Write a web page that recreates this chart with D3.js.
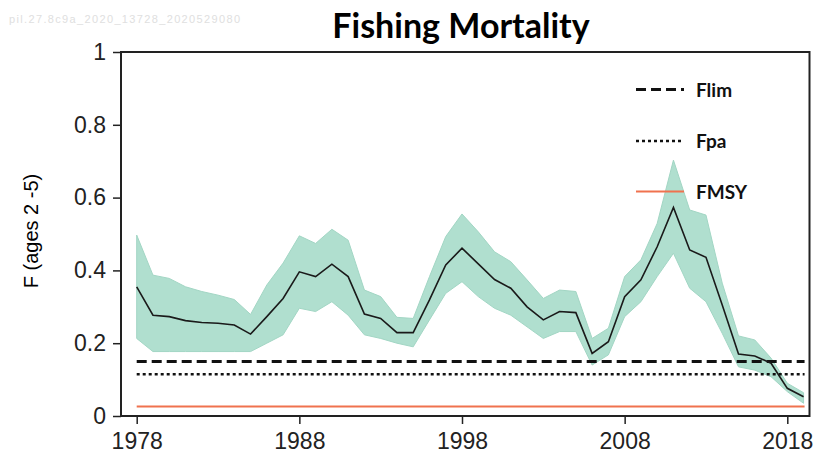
<!DOCTYPE html>
<html>
<head>
<meta charset="utf-8">
<script src="https://cdn.jsdelivr.net/npm/d3@7"></script>
<style>
  body { margin: 0; background: #fff; }
  svg { display: block; }
</style>
</head>
<body>
<div id="chart"></div>
<script>
// years and F estimates (ages 2-5)
var years = d3.range(1978, 2020);
var fMedian = [0.355, 0.277, 0.273, 0.262, 0.257, 0.255, 0.250, 0.225, 0.273, 0.323,
    0.396, 0.383, 0.417, 0.383, 0.280, 0.268, 0.229, 0.229, 0.319, 0.415,
    0.461, 0.418, 0.375, 0.351, 0.300, 0.264, 0.287, 0.284, 0.172, 0.204,
    0.328, 0.374, 0.465, 0.573, 0.456, 0.436, 0.305, 0.170, 0.165, 0.145,
    0.076, 0.053];
var fHigh = [0.497, 0.387, 0.378, 0.355, 0.342, 0.332, 0.320, 0.279, 0.360, 0.420,
    0.495, 0.474, 0.513, 0.483, 0.346, 0.328, 0.271, 0.268, 0.383, 0.493,
    0.555, 0.506, 0.451, 0.424, 0.374, 0.323, 0.346, 0.342, 0.213, 0.241,
    0.383, 0.429, 0.529, 0.703, 0.566, 0.552, 0.365, 0.220, 0.209, 0.159,
    0.090, 0.064];
var fLow = [0.213, 0.177, 0.177, 0.177, 0.177, 0.177, 0.177, 0.177, 0.200, 0.223,
    0.296, 0.287, 0.314, 0.277, 0.223, 0.213, 0.200, 0.190, 0.264, 0.337,
    0.369, 0.328, 0.296, 0.277, 0.245, 0.213, 0.232, 0.232, 0.140, 0.168,
    0.273, 0.314, 0.383, 0.447, 0.351, 0.314, 0.227, 0.135, 0.126, 0.108,
    0.067, 0.035];
var refNames = ["Flim", "Fpa", "FMSY"];
var refValues = [0.15, 0.115, 0.026];
var xTicks = [1978, 1988, 1998, 2008, 2018];
var yTicks = [0, 0.2, 0.4, 0.6, 0.8, 1];

var refStyle = {
    Flim: { color: "#111", width: 3, dash: "10,5" },
    Fpa: { color: "#111", width: 2.5, dash: "3,3" },
    FMSY: { color: "#f0724f", width: 2, dash: null }
};

var svg = d3.select("#chart").append("svg")
    .attr("width", 817)
    .attr("height", 455);

var x = d3.scaleLinear().domain([1978, 2018]).range([136.7, 787.3]);
var y = d3.scaleLinear().domain([0, 1]).range([416, 52]);

var rows = years.map(function(yr, i) {
    return { year: yr, med: fMedian[i], lo: fLow[i], hi: fHigh[i] };
});

// watermark + title
svg.append("text")
    .attr("x", 9).attr("y", 23)
    .attr("textLength", 231)
    .style("font-family", "Liberation Sans Narrow, Liberation Sans, sans-serif")
    .style("font-size", "11px")
    .style("fill", "#e0e0e0")
    .text("pil.27.8c9a_2020_13728_2020529080");

svg.append("text")
    .attr("x", 461).attr("y", 38)
    .attr("text-anchor", "middle")
    .style("font-family", "Lato, sans-serif")
    .style("font-weight", "bold")
    .style("font-size", "34px")
    .style("fill", "#000")
    .text("Fishing Mortality");

// confidence band
svg.append("path")
    .datum(rows)
    .attr("fill", "#b0dfcf")
    .attr("stroke", "#a2d6c4")
    .attr("stroke-width", 1)
    .attr("d", d3.area()
        .x(function(d) { return x(d.year); })
        .y0(function(d) { return y(d.lo); })
        .y1(function(d) { return y(d.hi); }));

// reference points
refNames.forEach(function(n, i) {
    var s = refStyle[n];
    svg.append("line")
        .attr("x1", x(1978)).attr("x2", x(2019) + 1)
        .attr("y1", y(refValues[i])).attr("y2", y(refValues[i]))
        .attr("stroke", s.color)
        .attr("stroke-width", s.width)
        .attr("stroke-dasharray", s.dash);
});

// median line
svg.append("path")
    .datum(rows)
    .attr("fill", "none")
    .attr("stroke", "#1a1a1a")
    .attr("stroke-width", 1.6)
    .attr("d", d3.line()
        .x(function(d) { return x(d.year); })
        .y(function(d) { return y(d.med); }));

// axes
var yAxis = svg.append("g")
    .attr("transform", "translate(121,0)")
    .call(d3.axisLeft(y).tickValues(yTicks).tickSize(8).tickPadding(7)
        .tickFormat(function(d) { return (d === 0 || d === 1) ? String(d) : d3.format(".1f")(d); }));
var xAxis = svg.append("g")
    .attr("transform", "translate(0,416)")
    .call(d3.axisBottom(x).tickValues(xTicks).tickSize(8).tickPadding(9).tickFormat(d3.format("d")));

[yAxis, xAxis].forEach(function(g) {
    g.select(".domain").remove();
    g.selectAll(".tick line").attr("stroke", "#222").attr("stroke-width", 1.5);
    g.selectAll("text")
        .style("font-family", "Liberation Sans, Arial, sans-serif")
        .style("font-size", "23px")
        .style("fill", "#222");
});

// plot box
svg.append("rect")
    .attr("x", 121).attr("y", 52)
    .attr("width", 809.5 - 121).attr("height", 416 - 52)
    .attr("fill", "none")
    .attr("stroke", "#222")
    .attr("stroke-width", 2);

svg.append("text")
    .attr("transform", "translate(38,231) rotate(-90)")
    .attr("text-anchor", "middle")
    .style("font-family", "Liberation Sans, Arial, sans-serif")
    .style("font-size", "20px")
    .style("fill", "#000")
    .text("F (ages 2 -5)");

// legend
var legendY = [89.5, 141, 191.5];
var legend = svg.append("g").attr("class", "legend");
refNames.forEach(function(n, i) {
    var s = refStyle[n];
    legend.append("line")
        .attr("x1", 636).attr("x2", 684)
        .attr("y1", legendY[i]).attr("y2", legendY[i])
        .attr("stroke", s.color)
        .attr("stroke-width", s.width)
        .attr("stroke-dasharray", s.dash);
    legend.append("text")
        .attr("x", 696).attr("y", legendY[i] + 7)
        .style("font-family", "Lato, sans-serif")
        .style("font-weight", "bold")
        .style("font-size", "19px")
        .style("fill", "#111")
        .text(n);
});
</script>
</body>
</html>
